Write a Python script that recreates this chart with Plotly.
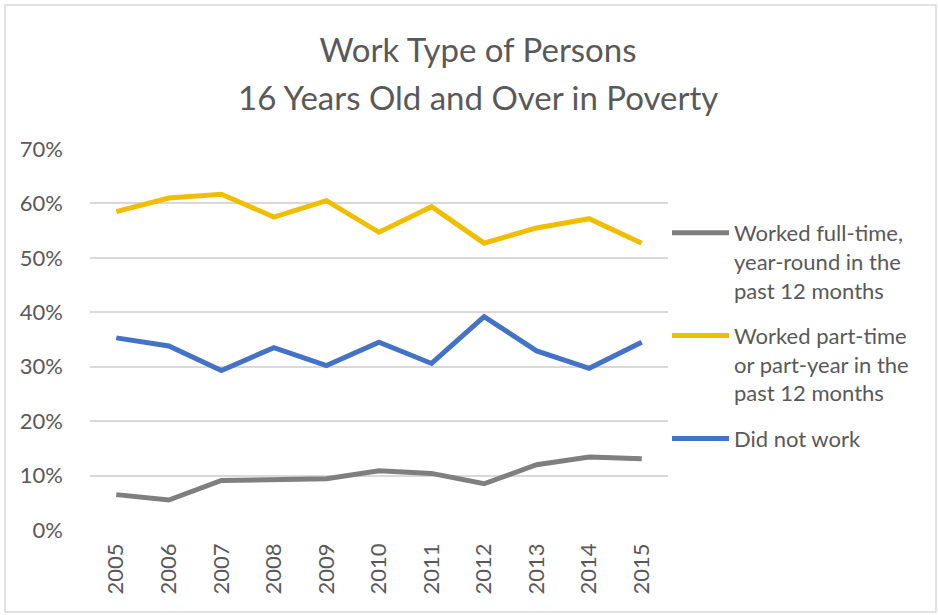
import plotly.graph_objects as go

years = ["2005", "2006", "2007", "2008", "2009", "2010", "2011", "2012", "2013", "2014", "2015"]
full_time = [0.065, 0.055, 0.091, 0.093, 0.094, 0.109, 0.104, 0.085, 0.120, 0.134, 0.131]
part_time = [0.585, 0.610, 0.617, 0.575, 0.605, 0.547, 0.594, 0.527, 0.555, 0.572, 0.527]
did_not_work = [0.353, 0.338, 0.293, 0.335, 0.302, 0.345, 0.306, 0.392, 0.329, 0.297, 0.345]

series_names = [
    "Worked full-time,<br>year-round in the<br>past 12 months",
    "Worked part-time<br>or part-year in the<br>past 12 months",
    "Did not work",
]
series_values = [full_time, part_time, did_not_work]
series_colors = ["#7F7F7F", "#F0BE00", "#4472C4"]

FONT = "Lato"
TXT = "#595959"

fig = go.Figure()
for i, (name, vals, col) in enumerate(zip(series_names, series_values, series_colors)):
    fig.add_trace(go.Scatter(
        x=years, y=vals, name=name, mode="lines",
        line=dict(color=col, width=5),
        legendgroup=str(i),
    ))

W, H = 938, 615
L, R, T, B = 90, 668, 149, 530
pw, ph = R - L, B - T

def px(x):
    return (x - L) / pw

def py(y):
    return (B - y) / ph

fig.update_layout(
    width=W, height=H,
    margin=dict(l=L, r=W - R, t=T, b=H - B),
    paper_bgcolor="white", plot_bgcolor="white",
    font=dict(family=FONT, color=TXT, size=22),
    title=dict(
        text="Work Type of Persons",
        x=px(478), xref="paper", xanchor="center",
        y=1 - 50 / H, yref="container", yanchor="middle",
        font=dict(family=FONT, size=33, color=TXT),
    ),
    showlegend=True,
    legend=dict(
        x=px(667), xanchor="left", y=py(212), yanchor="top",
        valign="top",
        font=dict(family=FONT, size=22, color=TXT),
        tracegroupgap=14,
        itemwidth=57,
        bgcolor="rgba(0,0,0,0)",
    ),
    xaxis=dict(
        type="category", range=[-0.5, 10.5],
        showgrid=False, showline=False, zeroline=False,
        tickangle=-90, ticks="",
        tickfont=dict(family=FONT, size=22, color=TXT),
        ticklabelstandoff=8,
    ),
    yaxis=dict(
        range=[0, 0.7], dtick=0.1, tick0=0,
        tickformat=".0%",
        showgrid=True, gridcolor="#D9D9D9", gridwidth=1.5,
        zeroline=False, showline=False, ticks="",
        tickfont=dict(family=FONT, size=22, color=TXT),
        ticklabelstandoff=26,
    ),
    annotations=[dict(
        text="16 Years Old and Over in Poverty",
        x=px(478), xref="paper", xanchor="center",
        y=py(97), yref="paper", yanchor="middle",
        showarrow=False,
        font=dict(family=FONT, size=33, color=TXT),
    )],
    shapes=[dict(
        type="rect", xref="paper", yref="paper",
        x0=px(5), x1=px(936), y0=py(612), y1=py(5),
        line=dict(color="#D9D9D9", width=1.5),
        layer="below",
    )],
)

fig.write_html(
    "out.html",
    config={"displayModeBar": False},
    post_script="document.body.style.margin='0';",
)
